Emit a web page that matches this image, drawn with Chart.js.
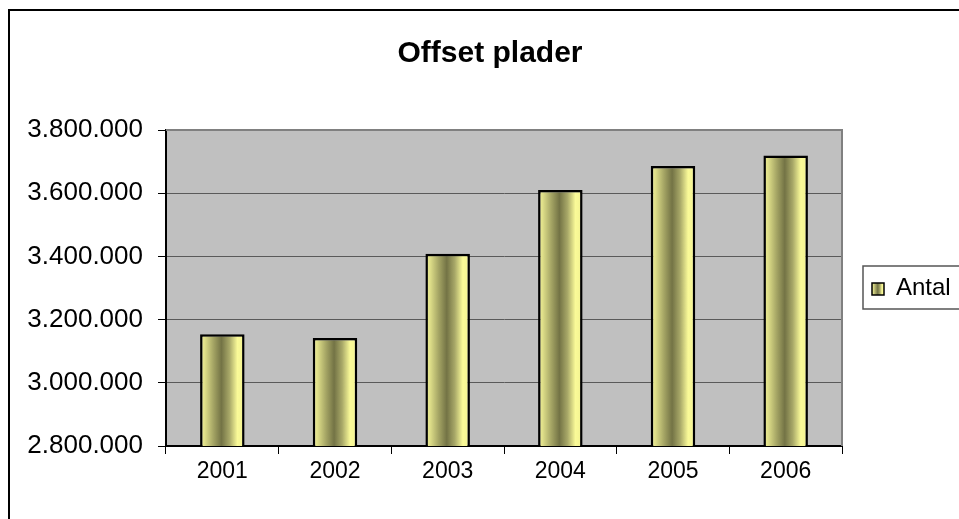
<!DOCTYPE html>
<html>
<head>
<meta charset="utf-8">
<script src="https://cdn.jsdelivr.net/npm/chart.js@4"></script>
<style>
  html, body { margin: 0; padding: 0; background: #fff; overflow: hidden; width: 959px; height: 519px; }
  .frame { position: absolute; left: 8px; top: 9px; width: 1000px; height: 530px; border: 2px solid #000; }
  .frame canvas { position: absolute; left: 0; top: 0; }
</style>
</head>
<body>
<div class="frame"><canvas id="chart" width="1000" height="530"></canvas></div>
<script>
const years = ['2001', '2002', '2003', '2004', '2005', '2006'];
const antal = [3154000, 3142000, 3408000, 3610000, 3686000, 3719000];
const seriesName = 'Antal';
const chartTitle = 'Offset plader';
const yMin = 2800000;
const yMax = 3800000;
const yStep = 200000;

const FONT = 'Arial, "Liberation Sans", sans-serif';
const BAR_PCT = 0.395;

function formatDots(v) {
    return String(v).replace(/\B(?=(\d{3})+(?!\d))/g, '.');
}

function barGradient(ctx, x0, x1) {
    const g = ctx.createLinearGradient(x0, 0, x1, 0);
    g.addColorStop(0, '#eeee94');
    g.addColorStop(0.1, '#e0e08a');
    g.addColorStop(0.3, '#a4a464');
    g.addColorStop(0.48, '#737345');
    g.addColorStop(0.66, '#a8a868');
    g.addColorStop(0.84, '#fafa98');
    g.addColorStop(1, '#f2f290');
    return g;
}

// gray plot area with a gray frame, plus the title centred on the page
const plotBackground = {
    id: 'plotBackground',
    beforeDraw(chart) {
        const { ctx, chartArea: a } = chart;
        ctx.save();
        ctx.fillStyle = '#c0c0c0';
        ctx.fillRect(a.left, a.top, a.width, a.height);
        ctx.restore();
    },
    afterDraw(chart) {
        const { ctx, chartArea: a } = chart;
        ctx.save();
        ctx.strokeStyle = '#808080';
        ctx.lineWidth = 2;
        ctx.beginPath();
        ctx.moveTo(a.left, a.top);
        ctx.lineTo(a.right, a.top);
        ctx.lineTo(a.right, a.bottom);
        ctx.stroke();

        ctx.fillStyle = '#000';
        ctx.font = 'bold 30px ' + FONT;
        ctx.textAlign = 'center';
        ctx.textBaseline = 'middle';
        ctx.fillText(chartTitle, 480, 43);
        ctx.restore();
    }
};

// excel style legend box on the right
const boxLegend = {
    id: 'boxLegend',
    afterDraw(chart) {
        const { ctx, chartArea: a } = chart;
        const left = a.right + 21;
        const top = 255;
        const h = 43;
        ctx.save();
        ctx.fillStyle = '#fff';
        ctx.fillRect(left, top, 200, h);
        ctx.strokeStyle = '#555';
        ctx.lineWidth = 1.5;
        ctx.strokeRect(left, top, 200, h);
        const sx = left + 9, sy = top + 17, s = 12;
        ctx.fillStyle = barGradient(ctx, sx, sx + s);
        ctx.fillRect(sx, sy, s, s);
        ctx.strokeStyle = '#000';
        ctx.lineWidth = 1.5;
        ctx.strokeRect(sx, sy, s, s);
        ctx.fillStyle = '#000';
        ctx.font = '24px ' + FONT;
        ctx.textBaseline = 'middle';
        ctx.textAlign = 'left';
        ctx.fillText(chart.data.datasets[0].label, left + 33, top + h / 2 + 1);
        ctx.restore();
    }
};

const ctx = document.getElementById('chart').getContext('2d');
const offsetChart = new Chart(ctx, {
    type: 'bar',
    data: {
        labels: years,
        datasets: [{
            label: seriesName,
            data: antal,
            backgroundColor: function(c) {
                const chart = c.chart;
                const a = chart.chartArea;
                if (!a || c.dataIndex === undefined) return '#e8e88c';
                const xs = chart.scales.x;
                const cx = xs.getPixelForValue(c.dataIndex);
                const half = (a.width / years.length) * BAR_PCT / 2;
                return barGradient(chart.ctx, cx - half, cx + half);
            },
            borderColor: '#000',
            borderWidth: 2.5,
            borderSkipped: false,
            barPercentage: BAR_PCT,
            categoryPercentage: 1
        }]
    },
    options: {
        responsive: false,
        animation: false,
        layout: {
            padding: { left: 0, right: 168, top: 119, bottom: 0 }
        },
        scales: {
            x: {
                offset: true,
                grid: {
                    offset: true,
                    drawOnChartArea: false,
                    tickLength: 8,
                    tickColor: '#000',
                    tickWidth: 1
                },
                border: { color: '#000', width: 2 },
                ticks: {
                    color: '#000',
                    padding: 4,
                    font: { family: FONT, size: 23 }
                },
                afterFit(scale) { scale.height = 95; }
            },
            y: {
                min: yMin,
                max: yMax,
                grid: {
                    color: '#5a5a5a',
                    lineWidth: 1,
                    tickLength: 8,
                    tickColor: '#000'
                },
                border: { color: '#000', width: 2 },
                ticks: {
                    stepSize: yStep,
                    color: '#000',
                    padding: 15,
                    font: { family: FONT, size: 26 },
                    callback: v => formatDots(v)
                },
                afterFit(scale) { scale.width = 156; }
            }
        },
        plugins: {
            legend: { display: false },
            tooltip: { enabled: false },
            title: { display: false }
        }
    },
    plugins: [plotBackground, boxLegend]
});
</script>
</body>
</html>
